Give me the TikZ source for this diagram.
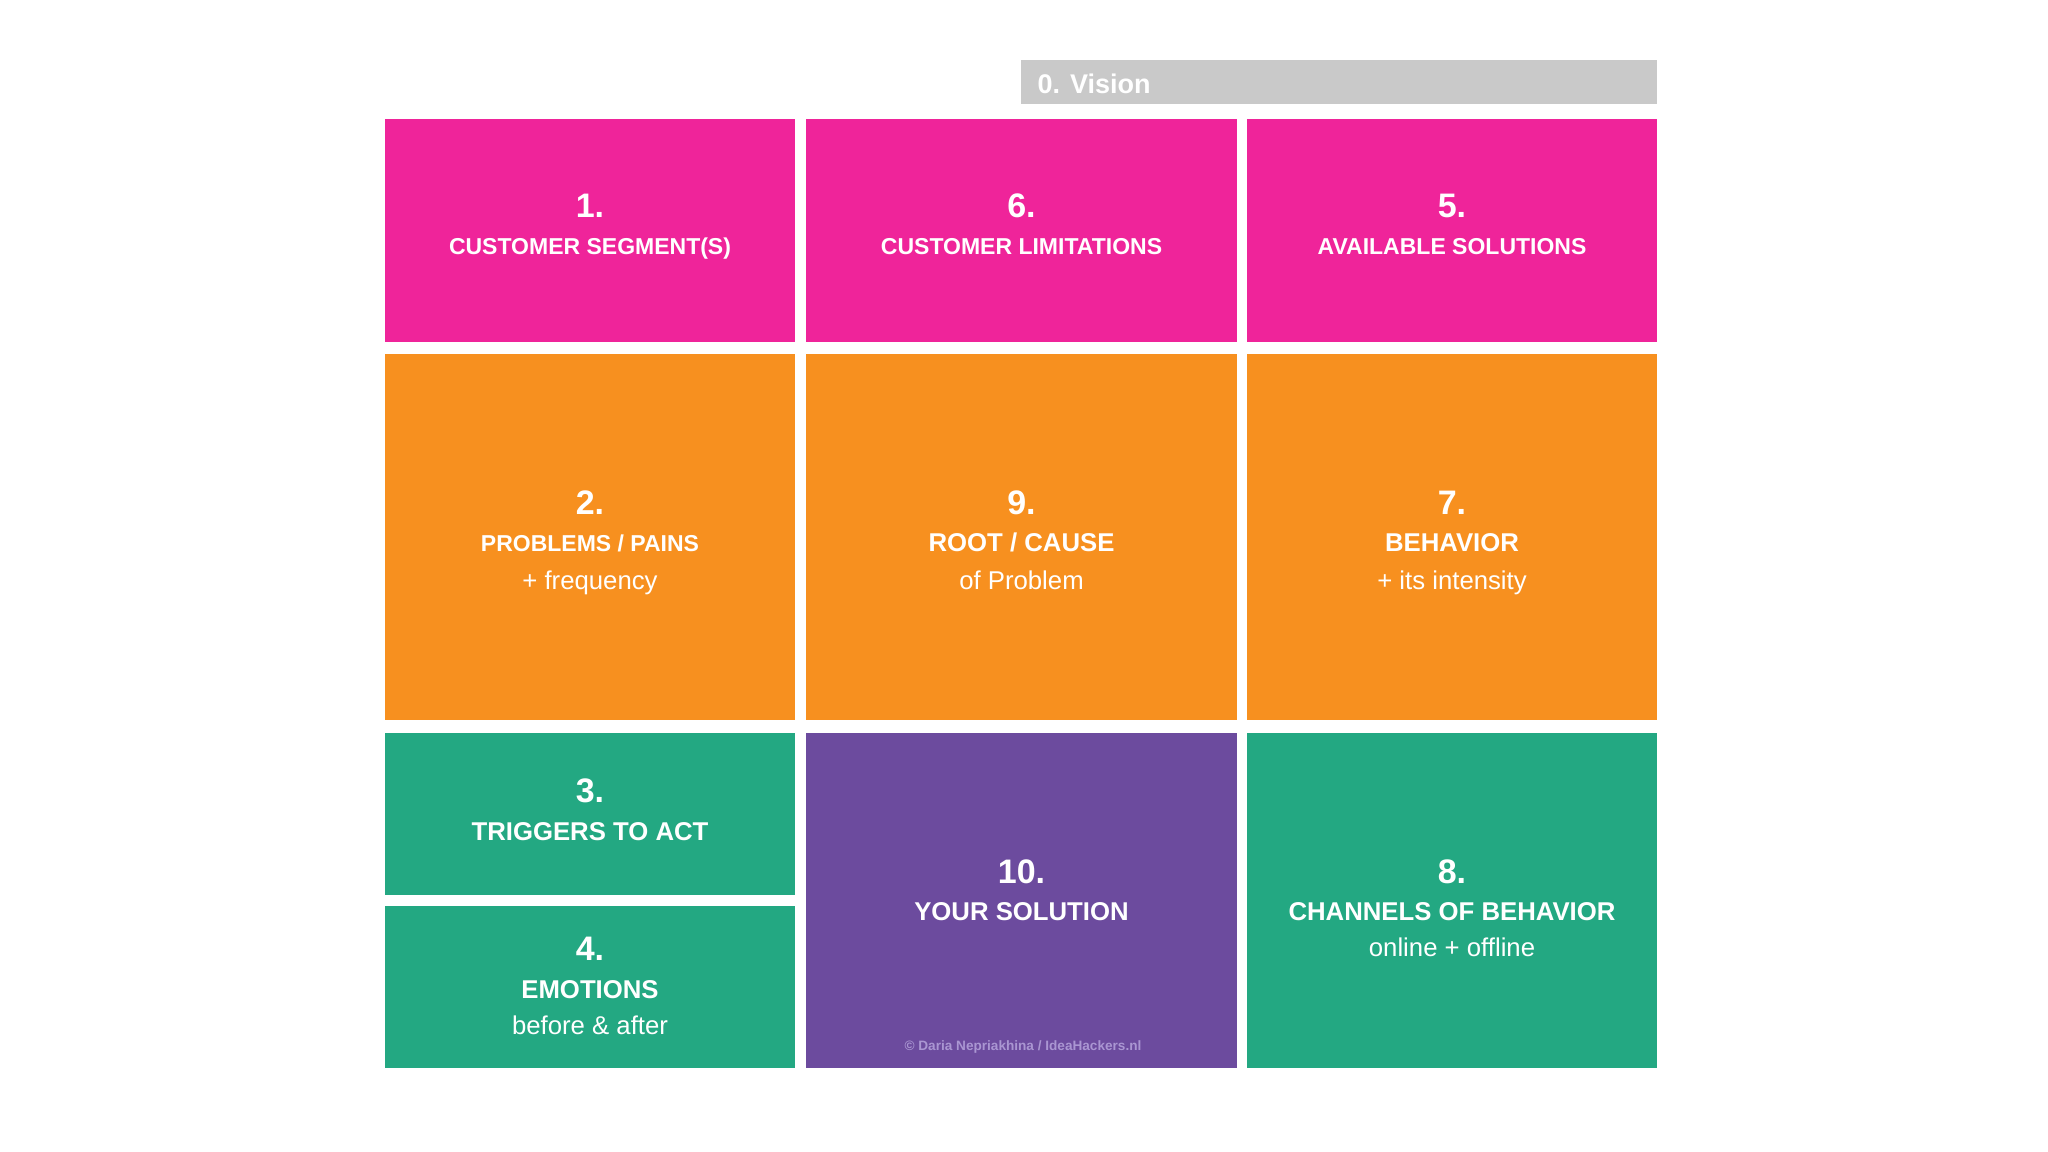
\documentclass[tikz,border=0pt]{standalone}
\usepackage{fontspec}
\setmainfont{Liberation Sans}

\definecolor{cvpink}{RGB}{239,36,154}
\definecolor{cvorange}{RGB}{247,144,31}
\definecolor{cvgreen}{RGB}{35,168,130}
\definecolor{cvpurple}{RGB}{108,75,158}
\definecolor{cvgrey}{RGB}{201,201,201}
\definecolor{cvcopy}{RGB}{170,150,210}

\tikzset{every picture/.style={line width=0.75pt},
  numtxt/.style={anchor=base,inner sep=0pt,text=white,font=\bfseries\fontsize{25.5}{30}\selectfont},
  ttltxt/.style={anchor=base,inner sep=0pt,text=white,font=\bfseries\fontsize{19.3}{23}\selectfont},
  ttlsmall/.style={ttltxt,font=\bfseries\fontsize{17.25}{21}\selectfont},
  subtxt/.style={anchor=base,inner sep=0pt,text=white,font=\fontsize{19.3}{23}\selectfont},
}

\begin{document}
\begin{tikzpicture}[x=0.75pt,y=0.75pt,yscale=-1,xscale=1]
\useasboundingbox (0,0) rectangle (2048,1152);
\fill [white] (0,0) rectangle (2048,1152);

%Shape: Rectangle [vision]
\fill [cvgrey] (1021,60) rectangle (1657,104);
%Shape: Rectangle [row 1]
\fill [cvpink] (385,119) rectangle (795,342);
\fill [cvpink] (806,119) rectangle (1237,342);
\fill [cvpink] (1247,119) rectangle (1657,342);
%Shape: Rectangle [row 2]
\fill [cvorange] (385,354) rectangle (795,720);
\fill [cvorange] (806,354) rectangle (1237,720);
\fill [cvorange] (1247,354) rectangle (1657,720);
%Shape: Rectangle [row 3]
\fill [cvgreen] (385,733) rectangle (795,895);
\fill [cvgreen] (385,906) rectangle (795,1068);
\fill [cvpurple] (806,733) rectangle (1237,1068);
\fill [cvgreen] (1247,733) rectangle (1657,1068);

% Text Node
\node [anchor=base west,inner sep=0pt,text=white,font=\bfseries\fontsize{20.25}{24}\selectfont] (v0) at (1037,94) {0. Vision};

% Text Node
\node [numtxt] (n1) at (590,217) {1.};
\node [ttlsmall] (t1) at (590,254) {CUSTOMER SEGMENT(S)};
% Text Node
\node [numtxt] (n6) at (1021.5,217) {6.};
\node [ttlsmall] (t6) at (1021.5,254) {CUSTOMER LIMITATIONS};
% Text Node
\node [numtxt] (n5) at (1452,217) {5.};
\node [ttlsmall] (t5) at (1452,254) {AVAILABLE SOLUTIONS};

% Text Node
\node [numtxt] (n2) at (590,514) {2.};
\node [ttlsmall] (t2) at (590,551) {PROBLEMS / PAINS};
\node [subtxt] (s2) at (590,589) {+ frequency};
% Text Node
\node [numtxt] (n9) at (1021.5,514) {9.};
\node [ttltxt] (t9) at (1021.5,551) {ROOT / CAUSE};
\node [subtxt] (s9) at (1021.5,589) {of Problem};
% Text Node
\node [numtxt] (n7) at (1452,514) {7.};
\node [ttltxt] (t7) at (1452,551) {BEHAVIOR};
\node [subtxt] (s7) at (1452,589) {+ its intensity};

% Text Node
\node [numtxt] (n3) at (590,802) {3.};
\node [ttltxt] (t3) at (590,840) {TRIGGERS TO ACT};
% Text Node
\node [numtxt] (n4) at (590,960) {4.};
\node [ttltxt] (t4) at (590,998) {EMOTIONS};
\node [subtxt] (s4) at (590,1034) {before \& after};
% Text Node
\node [numtxt] (n10) at (1021.5,883) {10.};
\node [ttltxt] (t10) at (1021.5,920) {YOUR SOLUTION};
\node [anchor=base,inner sep=0pt,text=cvcopy,font=\bfseries\fontsize{10.2}{12}\selectfont] (cr) at (1023,1050) {\textcopyright{} Daria Nepriakhina / IdeaHackers.nl};
% Text Node
\node [numtxt] (n8) at (1452,883) {8.};
\node [ttltxt] (t8) at (1452,920) {CHANNELS OF BEHAVIOR};
\node [subtxt] (s8) at (1452,956) {online + offline};

\end{tikzpicture}
\end{document}
